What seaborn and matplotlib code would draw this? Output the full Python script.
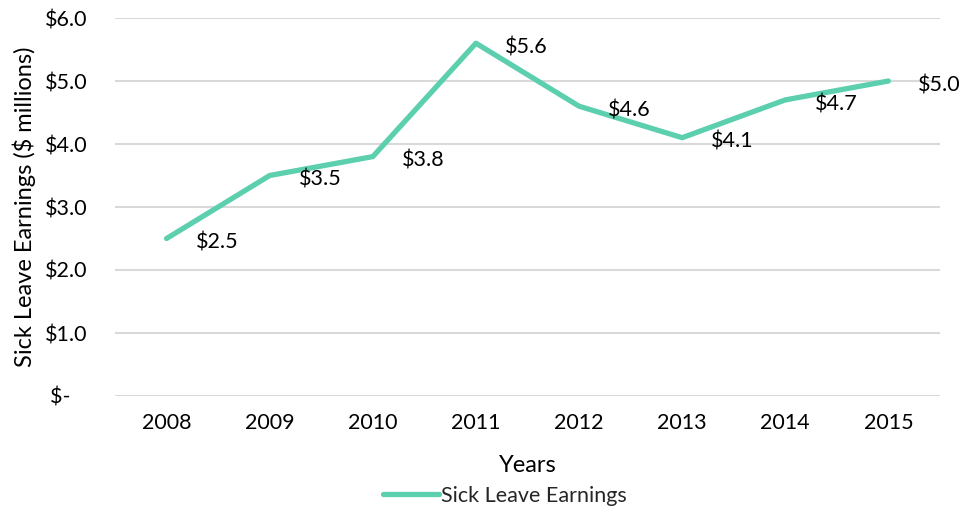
import matplotlib
matplotlib.use("Agg")
import matplotlib.pyplot as plt
import seaborn as sns
import pandas as pd
from matplotlib.ticker import FuncFormatter

years = ["2008", "2009", "2010", "2011", "2012", "2013", "2014", "2015"]
earnings = [2.5, 3.5, 3.8, 5.6, 4.6, 4.1, 4.7, 5.0]
yticks = [0, 1, 2, 3, 4, 5, 6]
series_name = "Sick Leave Earnings"

sns.set_theme(style="white")
plt.rcParams["font.family"] = ["Lato", "DejaVu Sans"]

df = pd.DataFrame({"Year": years, "Earnings": earnings, "Series": series_name})

fig = plt.figure(figsize=(9.59, 5.11), dpi=100)
ax = fig.add_axes([115/959, 1-396/511, (940-115)/959, (396-18)/511])

color = "#5ccfae"
sns.lineplot(data=df, x="Year", y="Earnings", hue="Series", palette=[color],
             linewidth=3.8, ax=ax, sort=False, legend=True)

ax.set_xlim(-0.5, len(years) - 0.5)
ax.set_ylim(0, 6)
ax.set_yticks(yticks)
ax.yaxis.set_major_formatter(FuncFormatter(lambda v, p: "$-   " if v == 0 else f"${v:.1f}"))
ax.grid(axis="y", color="#d9d9d9", linewidth=1.5)
ax.grid(axis="x", visible=False)
for s in ax.spines.values():
    s.set_visible(False)
ax.tick_params(axis="both", length=0, labelsize=15.5, colors="black")
ax.tick_params(axis="y", pad=20)
ax.tick_params(axis="x", pad=12)

for i, v in enumerate(earnings):
    ax.annotate(f"${v:.1f}", (i, v), xytext=(21, -3), textcoords="offset points",
                ha="left", va="center", fontsize=15.5, color="black")

ax.set_xlabel("Years", fontsize=17, color="black")
ax.set_ylabel("Sick Leave Earnings ($ millions)", fontsize=17, color="black")
ax.yaxis.set_label_coords((24 - 115) / 825, 0.5)
ax.xaxis.set_label_coords(0.5, -(465 - 396) / 378)
ax.xaxis.label.set_va("center")
ax.yaxis.label.set_va("center")

handles, labels = ax.get_legend_handles_labels()
ax.legend(handles=handles, labels=labels, loc="center", bbox_to_anchor=(505/959, 1-496/511),
          bbox_transform=fig.transFigure, frameon=False, fontsize=15.5,
          handlelength=2.6, handletextpad=0.1)

fig.savefig("out.png", dpi=100)
